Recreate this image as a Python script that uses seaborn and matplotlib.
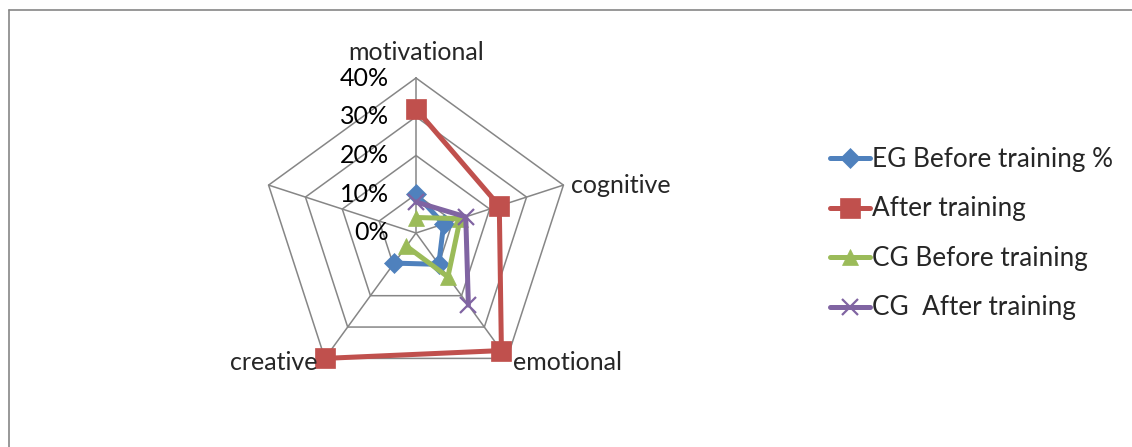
import numpy as np
import pandas as pd
import matplotlib
matplotlib.use("Agg")
import matplotlib.pyplot as plt
from matplotlib.lines import Line2D
import seaborn as sns

# ---- data (percent) ----
categories = ["motivational", "cognitive", "emotional", "creative", ""]
eg_before = [10, 7.5, 10, 9.6, np.nan]
eg_after = [32, 22.6, 37.5, 40, np.nan]
cg_before = [4, 12, 14, 4.2, np.nan]
cg_after = [8, 13.5, 23, np.nan, np.nan]
series_names = ["EG Before training %", "After training", "CG Before training", "CG  After training"]
radial_ticks = [0, 10, 20, 30, 40]

sns.set_style("white")
plt.rcParams["font.family"] = ["Lato", "DejaVu Sans"]

W, H = 1132, 447
fig = plt.figure(figsize=(W / 100, H / 100), dpi=100)
fig.patch.set_facecolor("white")

cx, cy, R = 416, 233, 155
ax = fig.add_axes([(cx - R) / W, (H - cy - R) / H, 2 * R / W, 2 * R / H], projection="polar")
ax.set_theta_zero_location("N")
ax.set_theta_direction(-1)
ax.set_ylim(0, 40)
ax.grid(False)
ax.set_xticks([])
ax.set_yticks([])
ax.spines["polar"].set_visible(False)
ax.patch.set_alpha(0)

n = len(categories)
angles = np.arange(n) * 2 * np.pi / n
grid_col = "#868686"
closed = np.append(angles, angles[0])
for r in radial_ticks[1:]:
    ax.plot(closed, [r] * (n + 1), color=grid_col, lw=1.1, zorder=0, clip_on=False)
for a in angles:
    ax.plot([a, a], [0, 40], color=grid_col, lw=1.1, zorder=0, clip_on=False)

colors = ["#4F81BD", "#C0504D", "#9BBB59", "#8064A2"]
markers = ["D", "s", "^", "x"]
msizes = [10, 14, 12, 12]
values = [eg_before, eg_after, cg_before, cg_after]

for name, vals, col, mk, ms in zip(series_names, values, colors, markers, msizes):
    df = pd.DataFrame({"theta": angles, "r": vals}).dropna()
    sns.lineplot(data=df, x="theta", y="r", ax=ax, sort=False, color=col, lw=3.6,
                 marker=mk, markersize=ms, markeredgecolor=col, markerfacecolor=col,
                 markeredgewidth=1.6 if mk == "x" else 0.5, label=name, clip_on=False,
                 zorder=3)

ax.set_xlabel("")
ax.set_ylabel("")

fs = 18
for v in radial_ticks:
    ax.annotate(f"{v}%", xy=(0, v), xytext=(-27, 0), textcoords="offset pixels",
                ha="right", va="center", fontsize=fs, color="black")

# category labels
ax.text(angles[0], 46.5, categories[0], ha="center", va="center", fontsize=fs)
ax.annotate(categories[1], xy=(angles[1], 40), xytext=(8, 0), textcoords="offset pixels",
            ha="left", va="center", fontsize=fs)
ax.annotate(categories[2], xy=(angles[2], 40), xytext=(6, -4), textcoords="offset pixels",
            ha="left", va="center", fontsize=fs)
ax.annotate(categories[3], xy=(angles[3], 40), xytext=(-7, -4), textcoords="offset pixels",
            ha="right", va="center", fontsize=fs)

leg = ax.legend(loc="center left", bbox_to_anchor=(830 / W, (H - 233.5) / H),
                bbox_transform=fig.transFigure, frameon=False, fontsize=fs,
                handlelength=1.6, handletextpad=0.08, labelspacing=0.98,
                borderpad=0, borderaxespad=0)
for t in leg.get_texts():
    t.set_fontsize(18.8)

# outer border (partially cropped chart frame)
fig.add_artist(Line2D([9 / W, 1], [1 - 10 / H, 1 - 10 / H], color=grid_col, lw=1.2))
fig.add_artist(Line2D([9 / W, 9 / W], [0, 1 - 10 / H], color=grid_col, lw=1.2))

fig.savefig("out.png", dpi=100)
